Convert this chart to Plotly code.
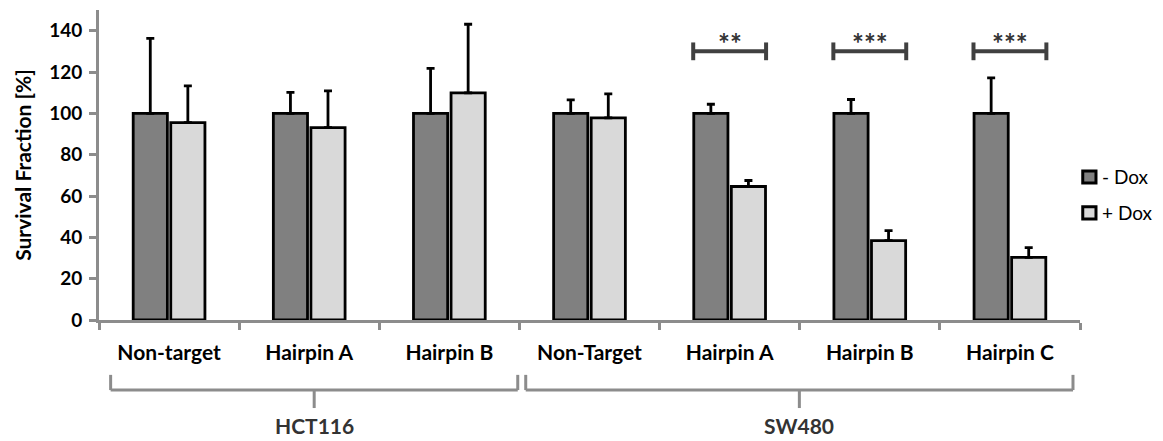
import plotly.graph_objects as go

# Cell lines and the shRNA constructs tested in each
cell_lines = ["HCT116", "SW480"]
constructs = ["Non-target", "Hairpin A", "Hairpin B",
              "Non-Target", "Hairpin A", "Hairpin B", "Hairpin C"]

# Survival fraction (%) with / without doxycycline, and upper SD
minus_dox = [100, 100, 100, 100, 100, 100, 100]
minus_err = [36.3, 10.1, 21.8, 6.5, 4.4, 6.7, 17.2]
plus_dox = [95.5, 93.1, 109.9, 97.8, 64.6, 38.4, 30.3]
plus_err = [17.8, 17.8, 33.2, 11.6, 2.9, 4.8, 4.7]

# Significance marks (construct index, label)
sig_idx = [4, 5, 6]
sig_text = ["**", "***", "***"]

series_names = ["- Dox", "+ Dox"]
fills = ["#808080", "#d9d9d9"]

FONT = "Lato"
AXIS_GREY = "#8c8c8c"
pos = list(range(len(constructs)))

fig = go.Figure()
for name, vals, errs, col in [(series_names[0], minus_dox, minus_err, fills[0]),
                              (series_names[1], plus_dox, plus_err, fills[1])]:
    fig.add_trace(go.Bar(
        x=pos, y=vals, name=name, showlegend=False,
        marker=dict(color=col, line=dict(color="black", width=2.8)),
        error_y=dict(type="data", symmetric=False, array=errs,
                     arrayminus=[0] * len(errs), color="black",
                     thickness=2.8, width=4),
    ))

fig.update_layout(
    width=1163, height=441,
    margin=dict(l=99, r=83, t=10, b=121),
    paper_bgcolor="white", plot_bgcolor="white",
    barmode="group", bargap=0.464, bargroupgap=0.09,
    font=dict(family=FONT, color="black"),
    xaxis=dict(
        range=[-0.5, 6.5], tickmode="array", tickvals=pos, ticktext=constructs,
        ticks="", showgrid=False, zeroline=False,
        showline=True, linecolor=AXIS_GREY, linewidth=3,
        tickfont=dict(family=FONT, size=21, color="black", weight="bold"),
        ticklabelstandoff=12,
        minor=dict(tickmode="array", tickvals=[p - 0.5 for p in pos] + [6.5],
                   ticks="outside", ticklen=7, tickwidth=2.5,
                   tickcolor=AXIS_GREY, showgrid=False),
    ),
    yaxis=dict(
        range=[0, 150], tickmode="array", tickvals=list(range(0, 141, 20)),
        ticks="outside", ticklen=7, tickwidth=2.5, tickcolor=AXIS_GREY,
        showgrid=False, zeroline=False,
        showline=True, linecolor=AXIS_GREY, linewidth=3,
        tickfont=dict(family=FONT, size=19, color="black", weight="bold"),
        ticklabelstandoff=3,
        title=dict(text="Survival Fraction [%]", standoff=12,
                   font=dict(family=FONT, size=21, color="black", weight="bold")),
    ),
)

# Significance bars between paired columns
half = 0.26
for i, txt in zip(sig_idx, sig_text):
    y0 = 130
    fig.add_shape(type="line", x0=i - half, x1=i + half, y0=y0, y1=y0,
                  line=dict(color="#404040", width=4))
    for xe in (i - half, i + half):
        fig.add_shape(type="line", x0=xe, x1=xe, y0=y0 - 4.3, y1=y0 + 4.3,
                      line=dict(color="#404040", width=4))
    fig.add_annotation(x=i, y=y0 - 5, text=txt, showarrow=False,
                       yanchor="bottom", xanchor="center",
                       font=dict(family=FONT, size=28, color="#333333", weight="bold"))

# Grouping brackets under the category labels
top, mid, low = -0.177, -0.226, -0.284
brackets = [(-0.417, 2.488), (2.545, 6.45)]
for name, (bx0, bx1) in zip(cell_lines, brackets):
    for xv in (bx0, bx1):
        fig.add_shape(type="line", xref="x", yref="paper", x0=xv, x1=xv, y0=top, y1=mid,
                      line=dict(color=AXIS_GREY, width=3))
    fig.add_shape(type="line", xref="x", yref="paper", x0=bx0, x1=bx1, y0=mid, y1=mid,
                  line=dict(color=AXIS_GREY, width=3))
    cx = (bx0 + bx1) / 2
    fig.add_shape(type="line", xref="x", yref="paper", x0=cx, x1=cx, y0=mid, y1=low,
                  line=dict(color=AXIS_GREY, width=3))
    fig.add_annotation(x=cx, y=-0.388, xref="x", yref="paper", text=name,
                       showarrow=False, xanchor="center", yanchor="bottom",
                       font=dict(family=FONT, size=21, color="#333333", weight="bold"))

# Legend keys
legend_rows = [(0.442, 0.481), (0.326, 0.365)]
for name, col, (ly0, ly1) in zip(series_names, fills, legend_rows):
    fig.add_shape(type="rect", xref="paper", yref="paper",
                  x0=1.0028, x1=1.0163, y0=ly0, y1=ly1,
                  fillcolor=col, line=dict(color="black", width=3))
    fig.add_annotation(x=1.0205, y=(ly0 + ly1) / 2, xref="paper", yref="paper",
                       text=name, showarrow=False, xanchor="left", yanchor="middle",
                       font=dict(family=FONT, size=19, color="black"))

fig.write_html("out.html")
